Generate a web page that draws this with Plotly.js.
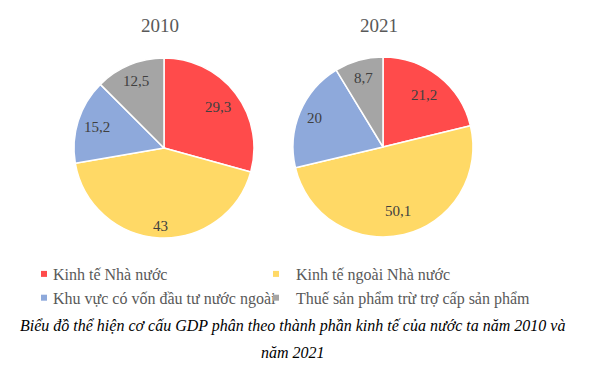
<!DOCTYPE html>
<html><head><meta charset="utf-8">
<script src="https://cdn.plot.ly/plotly-3.0.1.min.js"></script>
<style>
html,body{margin:0;padding:0;background:#fff;}
#chart{width:591px;height:365px;}
.legend .legendpoints path.scatterpts{transform:translate(31px,0px);}
</style>
</head><body><div id="chart"></div>
<script>
const categories = ["Kinh tế Nhà nước", "Kinh tế ngoài Nhà nước", "Khu vực có vốn đầu tư nước ngoài", "Thuế sản phẩm trừ trợ cấp sản phẩm"];
const years = ["2010", "2021"];
const values2010 = [29.3, 43, 15.2, 12.5];
const values2021 = [21.2, 50.1, 20, 8.7];
const colors = ["#FF4B4B", "#FFD966", "#8EA9DB", "#A5A5A5"];
const captionLines = ["Biểu đồ thể hiện cơ cấu GDP phân theo thành phần kinh tế của nước ta năm 2010 và", "năm 2021"];

const W = 591, H = 365;
const fmt = v => String(v).replace('.', ',');
const serif = "Liberation Serif";

// label radius (fraction of pie radius) per slice, style only
const labelR = [[0.75, 0.87, 0.78, 0.80], [0.74, 0.73, 0.83, 0.80]];

const domains = [
  {x: [74/W, 254/W], y: [(H-238)/H, (H-58)/H]},
  {x: [293/W, 473/W], y: [(H-237)/H, (H-57)/H]}
];

function pieTrace(vals, dom) {
  return {
    type: 'pie', labels: categories, values: vals,
    textinfo: 'none', showlegend: false,
    sort: false, direction: 'clockwise', rotation: 0,
    marker: {colors: colors, line: {color: '#ffffff', width: 1.5}},
    domain: dom, hoverinfo: 'label+value'
  };
}

const series = [values2010, values2021];
const data = series.map((v, i) => pieTrace(v, domains[i]));

// legend entries (two columns: legend = left column, legend2 = right column)
categories.forEach((c, j) => {
  data.push({
    type: 'scatter', mode: 'markers', x: [null], y: [null], name: c,
    marker: {symbol: 'square', size: 6, color: colors[j]},
    legend: (j % 2 === 0) ? 'legend' : 'legend2',
    legendgroup: 'g' + j, showlegend: true, hoverinfo: 'skip'
  });
});

const annotations = [];
series.forEach((vals, i) => {
  const d = domains[i];
  const cx = (d.x[0] + d.x[1]) / 2 * W;
  const cy = (1 - (d.y[0] + d.y[1]) / 2) * H;
  const R = Math.min((d.x[1]-d.x[0])*W, (d.y[1]-d.y[0])*H) / 2;
  const total = vals.reduce((a, b) => a + b, 0);
  let cum = 0;
  vals.forEach((v, j) => {
    const mid = (cum + v / 2) / total * 2 * Math.PI;
    cum += v;
    const r = R * labelR[i][j];
    const px = cx + r * Math.sin(mid);
    const py = cy - r * Math.cos(mid);
    annotations.push({text: fmt(v), x: px / W, y: 1 - py / H, xref: 'paper', yref: 'paper',
      xanchor: 'center', yanchor: 'middle', showarrow: false,
      font: {family: serif, size: 15, color: '#404040'}});
  });
  annotations.push({text: years[i], x: (i === 0 ? 160 : 379) / W, y: 1 - 25 / H, xref: 'paper', yref: 'paper',
    xanchor: 'center', yanchor: 'middle', showarrow: false,
    font: {family: serif, size: 19, color: '#595959'}});
});
annotations.push({text: '<i>' + captionLines[0] + '</i>', x: 292 / W, y: 1 - 326 / H, xref: 'paper', yref: 'paper',
  xanchor: 'center', yanchor: 'middle', showarrow: false, font: {family: serif, size: 16, color: '#000'}});
annotations.push({text: '<i>' + captionLines[1] + '</i>', x: 293 / W, y: 1 - 352 / H, xref: 'paper', yref: 'paper',
  xanchor: 'center', yanchor: 'middle', showarrow: false, font: {family: serif, size: 16, color: '#000'}});

const legendBase = {
  orientation: 'v', xanchor: 'left', yanchor: 'top', y: 1 - 257/H,
  font: {family: serif, size: 16, color: '#595959'},
  tracegroupgap: 6, bgcolor: 'rgba(0,0,0,0)', traceorder: 'normal'
};

const layout = {
  width: W, height: H,
  margin: {l: 0, r: 0, t: 0, b: 0},
  paper_bgcolor: '#fff', plot_bgcolor: 'rgba(0,0,0,0)',
  xaxis: {visible: false}, yaxis: {visible: false},
  showlegend: true,
  legend: Object.assign({}, legendBase, {x: 13 / W}),
  legend2: Object.assign({}, legendBase, {x: 256 / W}),
  annotations: annotations
};

Plotly.newPlot('chart', data, layout, {displayModeBar: false, staticPlot: true});
</script>
</body></html>
